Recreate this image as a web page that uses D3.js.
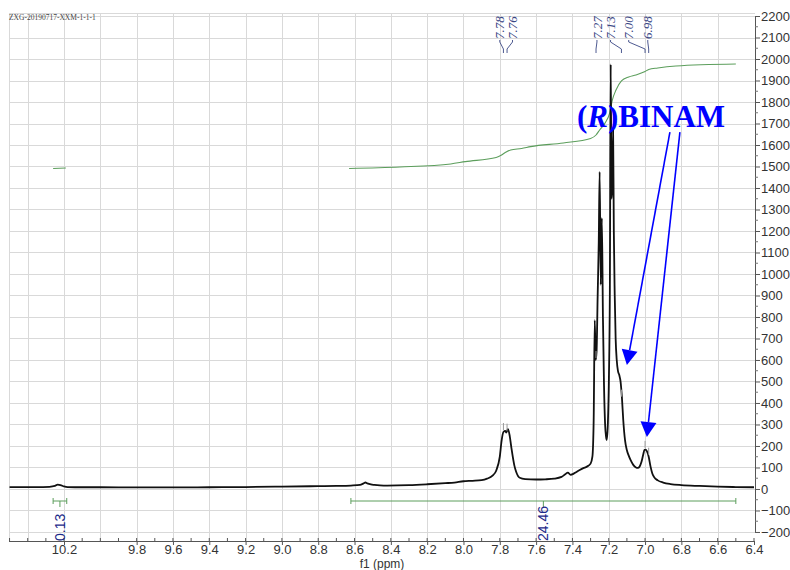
<!DOCTYPE html>
<html>
<head>
<meta charset="utf-8">
<script src="https://cdn.jsdelivr.net/npm/d3@7"></script>
<style>
  html, body { margin: 0; padding: 0; background: #ffffff; }
  svg { display: block; }
</style>
</head>
<body>
<svg id="chart" width="790" height="570"></svg>
<script>
// 1H NMR spectrum of (R)-BINAM, f1 axis in ppm (reversed), intensity on the right axis.
const spectrumPpm = [
  10.50, 10.35, 10.28, 10.25, 10.235, 10.22, 10.20, 10.18, 10.10, 10.00, 9.80, 9.60, 9.40, 9.20, 9.00,
  8.80, 8.70, 8.62, 8.57, 8.55, 8.54, 8.53, 8.51, 8.49, 8.46, 8.42, 8.30, 8.20, 8.10, 8.05, 8.00,
  7.95, 7.90, 7.87, 7.84, 7.82, 7.80, 7.79, 7.78, 7.77, 7.765, 7.755, 7.745, 7.735, 7.72, 7.71,
  7.69, 7.66, 7.60, 7.55, 7.50, 7.46, 7.44, 7.425, 7.41, 7.395, 7.38, 7.36, 7.34, 7.32, 7.30,
  7.29, 7.283, 7.277, 7.272, 7.267, 7.261, 7.255, 7.250, 7.244, 7.238, 7.232, 7.226, 7.220,
  7.215, 7.211, 7.205, 7.199, 7.194, 7.189, 7.185, 7.181, 7.176, 7.172, 7.167, 7.162, 7.156,
  7.149, 7.142, 7.135, 7.127, 7.12, 7.11, 7.10, 7.09, 7.08, 7.065, 7.05, 7.04, 7.03, 7.02,
  7.01, 7.003, 6.997, 6.99, 6.98, 6.97, 6.96, 6.95, 6.93, 6.90, 6.86, 6.80, 6.70, 6.60, 6.50, 6.40
];
const spectrumIntensity = [
  9, 9, 10, 14, 20, 18, 12, 9, 8, 8, 7, 7, 8, 9, 11,
  13, 14, 16, 19, 26, 30, 26, 21, 19, 17, 16, 18, 22, 27, 30, 36,
  38, 41, 48, 62, 85, 150, 225, 265, 270, 262, 278, 245, 185, 110, 80,
  52, 46, 44, 45, 48, 56, 68, 76, 66, 70, 78, 88, 97, 104, 118,
  150, 320, 785, 600, 640, 900, 1150, 1475, 950, 1260, 800, 480, 300,
  245, 228, 300, 520, 900, 1975, 1350, 1400, 1670, 1200, 900, 700, 600,
  548, 530, 500, 420, 320, 225, 180, 155, 135, 112, 100, 98, 104, 125,
  160, 182, 183, 176, 150, 105, 72, 55, 40, 30, 23, 18, 14, 11, 9, 8
];

// Running integral of the 8.62–6.50 ppm region (percent of the region total).
const integralPpm = [8.63, 8.35, 8.07, 7.99, 7.82, 7.79, 7.77, 7.74, 7.68, 7.63, 7.45, 7.30, 7.27,
  7.25, 7.22, 7.195, 7.18, 7.16, 7.13, 7.09, 7.05, 7.00, 6.98, 6.93, 6.83, 6.50];
const integralValue = [0, 1.4, 4.3, 6.5, 10.5, 12.9, 15.3, 17.7, 19.1, 20.9, 24.4, 28.7, 32,
  36.8, 43.5, 53, 65.6, 75, 83.7, 87.6, 89.5, 92.8, 94.7, 96.2, 98.1, 100];
const smallIntegralPpm = [10.26, 10.19];
const smallIntegralValue = [0, 0.4];

// Integration regions with their reported areas.
const regionFrom = [10.26, 8.62];
const regionTo = [10.185, 6.50];
const regionLabels = ["0.13", "24.46"];

// Peak picking: true shifts and where their labels sit.
const peakPpm = [7.78, 7.76, 7.27, 7.13, 7.00, 6.98];
const peakLabelPpm = [7.80, 7.73, 7.265, 7.19, 7.09, 6.985];
const peakLabels = ["7.78", "7.76", "7.27", "7.13", "7.00", "6.98"];

// Axis ticks
const xTickValues = [10.2, 9.8, 9.6, 9.4, 9.2, 9.0, 8.8, 8.6, 8.4, 8.2, 8.0, 7.8, 7.6, 7.4, 7.2, 7.0, 6.8, 6.6, 6.4];
const yTickValues = [2200, 2100, 2000, 1900, 1800, 1700, 1600, 1500, 1400, 1300, 1200, 1100, 1000,
  900, 800, 700, 600, 500, 400, 300, 200, 100, 0, -100, -200];

// Annotation: compound name and arrows to its signals (in ppm / intensity units).
const compoundPpm = 7.375, compoundIntensity = 1684;
const arrowFromPpm = [6.863, 6.808];
const arrowFromIntensity = [1660, 1660];
const arrowToPpm = [7.10, 6.99];
const arrowToIntensity = [577, 242];

const svg = d3.select("#chart");
const plotLeft = 9, plotRight = 755, plotTop = 13, plotBottom = 541;

const x = d3.scaleLinear().domain([10.503, 6.4]).range([plotLeft, 754]);
const y = d3.scaleLinear().domain([-242, 2214]).range([plotBottom, plotTop]);
const yInt = d3.scaleLinear().domain([0, 100]).range([y(1491), y(1977)]);

// Grid
const grid = svg.append("g").attr("stroke", "#d9d9d9").attr("stroke-width", 1).attr("shape-rendering", "crispEdges");
d3.range(10.4, 6.5, -0.2).forEach(v => {
  grid.append("line").attr("x1", Math.round(x(v)) + 0.5).attr("x2", Math.round(x(v)) + 0.5)
    .attr("y1", plotTop).attr("y2", plotBottom);
});
yTickValues.forEach(v => {
  grid.append("line").attr("x1", plotLeft).attr("x2", plotRight)
    .attr("y1", Math.round(y(v)) + 0.5).attr("y2", Math.round(y(v)) + 0.5);
});
grid.append("line").attr("x1", plotLeft).attr("x2", plotRight).attr("y1", plotTop + 0.5).attr("y2", plotTop + 0.5);
grid.append("line").attr("x1", plotLeft + 0.5).attr("x2", plotLeft + 0.5).attr("y1", plotTop).attr("y2", plotBottom);

// X axis (ppm)
const xAxis = d3.axisBottom(x)
  .tickValues(xTickValues)
  .tickFormat(d3.format(".1f"))
  .tickSize(4)
  .tickSizeOuter(0);
const gx = svg.append("g").attr("transform", `translate(0,${plotBottom})`).call(xAxis);
gx.select(".domain").attr("stroke", "#555").attr("d", `M${plotLeft},0.5H${plotRight}`);
gx.selectAll(".tick line").attr("stroke", "#555");
gx.selectAll(".tick text").attr("fill", "#333").attr("font-family", "Liberation Sans, Arial, sans-serif")
  .attr("font-size", 13).attr("y", 6).attr("dy", "0.5em");
const minorX = d3.range(10.5, 6.35, -0.1);
gx.selectAll(".minor").data(minorX).enter().append("line")
  .attr("x1", d => x(d)).attr("x2", d => x(d)).attr("y1", -3).attr("y2", 0)
  .attr("stroke", "#555");
svg.append("text").attr("x", 382).attr("y", 568).attr("text-anchor", "middle")
  .attr("font-family", "Liberation Sans, Arial, sans-serif").attr("font-size", 12).attr("fill", "#333")
  .text("f1 (ppm)");

// Y axis (intensity) on the right
const yAxis = d3.axisRight(y).tickValues(yTickValues).tickFormat(d3.format("d")).tickSize(5).tickSizeOuter(0);
const gy = svg.append("g").attr("transform", `translate(${plotRight},0)`).call(yAxis);
gy.select(".domain").attr("stroke", "#555").attr("d", `M0.5,${y(2200)}V${y(-200)}`);
gy.selectAll(".tick line").attr("stroke", "#555");
gy.selectAll(".tick text").attr("fill", "#333").attr("font-family", "Liberation Sans, Arial, sans-serif")
  .attr("font-size", 13).attr("x", 6);
gy.selectAll(".minor").data(d3.range(-150, 2200, 100)).enter().append("line")
  .attr("x1", 0).attr("x2", 3).attr("y1", d => y(d)).attr("y2", d => y(d)).attr("stroke", "#777");

// File name
svg.append("text").attr("x", 9).attr("y", 20)
  .attr("font-family", "Liberation Serif, Times New Roman, serif").attr("font-size", 7.5).attr("fill", "#444")
  .text("ZXG-20190717-XXM-1-1-1");

// Integral curves
const intLine = d3.line().x(d => x(d[0])).y(d => yInt(d[1])).curve(d3.curveMonotoneX);
svg.append("path").datum(d3.zip(integralPpm, integralValue)).attr("d", intLine)
  .attr("fill", "none").attr("stroke", "#5c9e5c").attr("stroke-width", 1.1);
svg.append("path").datum(d3.zip(smallIntegralPpm, smallIntegralValue)).attr("d", intLine)
  .attr("fill", "none").attr("stroke", "#5c9e5c").attr("stroke-width", 1.1);

// Spectrum
const specLine = d3.line().x(d => x(d[0])).y(d => y(d[1])).curve(d3.curveMonotoneX);
svg.append("path").datum(d3.zip(spectrumPpm, spectrumIntensity)).attr("d", specLine)
  .attr("fill", "none").attr("stroke", "#111").attr("stroke-width", 1.8).attr("stroke-linejoin", "round");

// Integration brackets and their areas
const bracketY = y(-56);
regionFrom.forEach((from, i) => {
  const to = regionTo[i];
  const g = svg.append("g").attr("stroke", "#5c9e5c").attr("stroke-width", 1);
  g.append("line").attr("x1", x(from)).attr("x2", x(to)).attr("y1", bracketY).attr("y2", bracketY);
  g.append("line").attr("x1", x(from)).attr("x2", x(from)).attr("y1", bracketY - 3).attr("y2", bracketY + 3);
  g.append("line").attr("x1", x(to)).attr("x2", x(to)).attr("y1", bracketY - 3).attr("y2", bracketY + 3);
  const mid = x((from + to) / 2);
  g.append("line").attr("x1", mid).attr("x2", mid).attr("y1", bracketY).attr("y2", bracketY + 6);
  svg.append("text")
    .attr("transform", `translate(${mid},${plotBottom}) rotate(-90)`)
    .attr("dy", "0.36em")
    .attr("font-family", "Liberation Sans, Arial, sans-serif").attr("font-size", 14)
    .attr("fill", "#1d2b8a")
    .text(regionLabels[i]);
});

// Peak picking labels with leaders
const labelBottom = 39;
peakPpm.forEach((p, i) => {
  const lx = x(peakLabelPpm[i]), px = x(p);
  svg.append("path")
    .attr("d", `M${lx},${labelBottom + 1}V${labelBottom + 3}L${px},${labelBottom + 10}V${labelBottom + 14}`)
    .attr("fill", "none").attr("stroke", "#3a4785").attr("stroke-width", 0.9);
  svg.append("text")
    .attr("transform", `translate(${lx},${labelBottom}) rotate(-90)`)
    .attr("dy", "0.35em")
    .attr("font-family", "Liberation Serif, Times New Roman, serif").attr("font-style", "italic")
    .attr("font-size", 13).attr("fill", "#3a4785")
    .text(peakLabels[i]);
});

// Peak markers just above the picked maxima
const peakHeight = p => {
  const idx = d3.minIndex(spectrumPpm, v => Math.abs(v - p));
  return spectrumIntensity[idx];
};
peakPpm.forEach(p => {
  const yy = y(peakHeight(p));
  svg.append("line").attr("x1", x(p)).attr("x2", x(p)).attr("y1", yy - 9).attr("y2", yy - 2)
    .attr("stroke", "#999").attr("stroke-width", 1);
});

// Compound annotation
const label = svg.append("text")
  .attr("x", x(compoundPpm)).attr("y", y(compoundIntensity))
  .attr("font-family", "Liberation Serif, Times New Roman, serif").attr("font-weight", "bold")
  .attr("font-size", 31).attr("fill", "#0000ff");
label.append("tspan").text("(");
label.append("tspan").attr("font-style", "italic").text("R");
label.append("tspan").text(")BINAM");

arrowFromPpm.forEach((fp, i) => {
  const x1 = x(fp), y1 = y(arrowFromIntensity[i]);
  const x2 = x(arrowToPpm[i]), y2 = y(arrowToIntensity[i]);
  const ang = Math.atan2(y2 - y1, x2 - x1);
  const headLen = 15, headHalf = 8;
  const bx = x2 - headLen * Math.cos(ang), by = y2 - headLen * Math.sin(ang);
  svg.append("line").attr("x1", x1).attr("y1", y1).attr("x2", bx).attr("y2", by)
    .attr("stroke", "#0000ff").attr("stroke-width", 1.6);
  const nx = -Math.sin(ang), ny = Math.cos(ang);
  svg.append("path")
    .attr("d", `M${x2},${y2}L${bx + nx * headHalf},${by + ny * headHalf}L${bx - nx * headHalf},${by - ny * headHalf}Z`)
    .attr("fill", "#0000ff");
});
</script>
</body>
</html>
